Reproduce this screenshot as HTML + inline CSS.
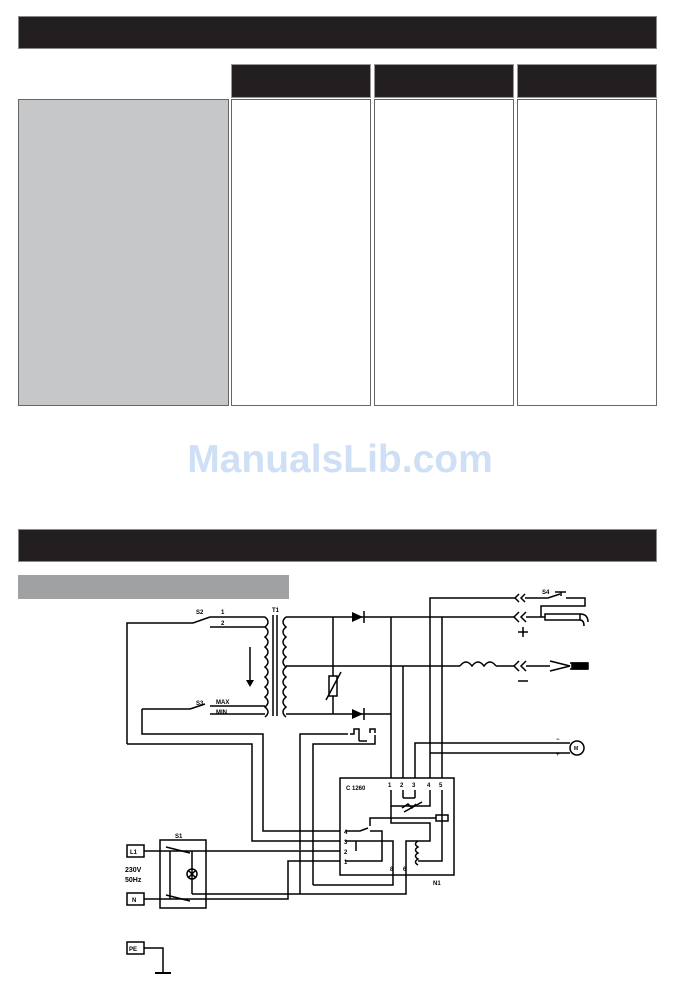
<!DOCTYPE html>
<html><head><meta charset="utf-8"><style>
html,body{margin:0;padding:0;background:#fff;}
body{width:674px;height:1000px;position:relative;overflow:hidden;font-family:"Liberation Sans",sans-serif;}
.a{position:absolute;box-sizing:border-box;}
</style></head><body>
<div class="a" style="left:18px;top:16px;width:639px;height:33px;background:#231f20;border:1px solid #888;"></div>
<div class="a" style="left:231px;top:64px;width:140px;height:34px;background:#231f20;border:1px solid #999;"></div>
<div class="a" style="left:374px;top:64px;width:140px;height:34px;background:#231f20;border:1px solid #999;"></div>
<div class="a" style="left:517px;top:64px;width:140px;height:34px;background:#231f20;border:1px solid #999;"></div>
<div class="a" style="left:18px;top:99px;width:211px;height:307px;background:#c6c7c8;border:1px solid #666;"></div>
<div class="a" style="left:231px;top:99px;width:140px;height:307px;border:1px solid #666;"></div>
<div class="a" style="left:374px;top:99px;width:140px;height:307px;border:1px solid #666;"></div>
<div class="a" style="left:517px;top:99px;width:140px;height:307px;border:1px solid #666;"></div>
<div class="a" style="left:180px;top:438px;width:320px;text-align:center;font-size:39px;font-weight:bold;color:#cfe0f6;">ManualsLib.com</div>
<div class="a" style="left:18px;top:529px;width:639px;height:33px;background:#231f20;border:1px solid #888;"></div>
<div class="a" style="left:18px;top:575px;width:271px;height:24px;background:#a0a1a3;"></div>
<svg class="a" style="left:0;top:0" width="674" height="1000" viewBox="0 0 674 1000">
<g stroke="#000" stroke-width="1.5" fill="none">
<polyline points="127,744 127,623 193,623 210,617"/>
<line x1="210" y1="617" x2="265" y2="617"/>
<line x1="210" y1="627" x2="265" y2="627"/>
<path d="M265,617 q6,5 0,10 q6,5 0,10 q6,5 0,10 q6,5 0,10 q6,5 0,10 q6,5 0,10 q6,5 0,10 q6,5 0,10 q6,5 0,10 q6,5 0,10"/>
<line x1="273" y1="615" x2="273" y2="716"/><line x1="277" y1="615" x2="277" y2="716"/>
<path d="M286,617 q-6,5 0,10 q-6,5 0,10 q-6,5 0,10 q-6,5 0,10 q-6,5 0,10 q-6,5 0,10 q-6,5 0,10 q-6,5 0,10 q-6,5 0,10 q-6,5 0,10"/>
<line x1="250" y1="647" x2="250" y2="680"/>
<line x1="190" y1="709" x2="142" y2="709"/><line x1="190" y1="709" x2="205" y2="704"/>
<line x1="210" y1="706" x2="265" y2="706"/><line x1="210" y1="714" x2="265" y2="714"/>
<polyline points="142,709 142,734 263,734 263,831 340,831"/>
<polyline points="127,744 252,744 252,841 340,841"/>
<line x1="286" y1="617" x2="515" y2="617"/>
<line x1="286" y1="714" x2="391" y2="714"/>
<line x1="286" y1="666" x2="460" y2="666"/>
<line x1="333" y1="617" x2="333" y2="714"/>
<rect x="329" y="676" width="8" height="20" fill="#fff"/>
<line x1="326" y1="700" x2="341" y2="672"/>
<line x1="391" y1="617" x2="391" y2="778"/>
<line x1="442" y1="617" x2="442" y2="778"/>
<line x1="403" y1="666" x2="403" y2="778"/>
<path d="M460,666 q6,-8 12,0 q6,-8 12,0 q6,-8 12,0 " />
<line x1="496" y1="666" x2="515" y2="666"/>
<polyline points="430,778 430,598 515,598"/>
<polyline points="415,778 415,743 570,743"/>
<polyline points="430,753 570,753"/>
<path d="M519,594 l-4,4 l4,4 M525,594 l-4,4 l4,4"/>
<path d="M519,612 l-5,5 l5,5 M526,612 l-5,5 l5,5"/>
<path d="M519,661 l-5,5 l5,5 M526,661 l-5,5 l5,5"/>
<line x1="526" y1="617" x2="545" y2="617"/>
<line x1="526" y1="666" x2="550" y2="666"/>
<polyline points="525,598 548,598 560,594"/>
<line x1="555" y1="592" x2="566" y2="592"/><line x1="561" y1="592" x2="561" y2="596"/>
<polyline points="566,598 585,598 585,606 541,606 541,617"/>
<rect x="545" y="614" width="35" height="6"/>
<path d="M580,614 q8,0 8,8 M580,620 q4,0 4,6"/>
<path d="M550,661 l20,5 l-20,5 M570,663 h18 M570,669 h18"/>
<rect x="572" y="663" width="16" height="6" fill="#000"/>
<line x1="518" y1="632" x2="528" y2="632"/><line x1="523" y1="627" x2="523" y2="637"/>
<line x1="518" y1="681" x2="528" y2="681"/>
<circle cx="577" cy="748" r="7"/>
<polyline points="300,850 300,734 348,734"/>
<polyline points="313,885 313,744 375,744 375,735"/>
<path d="M350,734 h4 v-5 h5 v12 M359,741 h8"/>
<path d="M370,733 v-4 h5 v4"/>
<rect x="340" y="778" width="114" height="97"/>
<line x1="300" y1="851" x2="300" y2="894"/>
<polyline points="313,885 393,885 393,872"/>
<polyline points="192,894 406,894 406,872"/>
<polyline points="144,851 340,851"/>
<polyline points="144,899 288,899 288,861 340,861"/>
<line x1="403" y1="790" x2="403" y2="798"/><line x1="415" y1="790" x2="415" y2="798"/>
<polyline points="403,798 415,798"/>
<polyline points="391,790 391,806 430,806 430,790"/>
<path d="M402,808 l6,-4 l4,4 l4,-4 M404,812 l18,-10"/>
<polyline points="391,806 391,823 430,823 430,841 418,841"/>
<path d="M418,841 q-5,3 0,6 q-5,3 0,6 q-5,3 0,6 q-5,3 0,6"/>
<polyline points="406,872 406,841 418,841"/>
<polyline points="442,790 442,861 418,861"/>
<rect x="436" y="815" width="12" height="6"/>
<polyline points="436,818 370,818 370,826"/>
<polyline points="345,831 360,831 368,828"/>
<polyline points="370,831 382,831 382,861 345,861"/>
<polyline points="345,841 393,841 393,872"/>
<polyline points="356,841 356,851"/>
<rect x="160" y="840" width="46" height="68"/>
<line x1="170" y1="851" x2="170" y2="899"/>
<line x1="166" y1="847" x2="190" y2="853"/>
<line x1="166" y1="895" x2="190" y2="901"/>
<polyline points="192,851 192,894"/>
<circle cx="192" cy="874" r="5"/>
<path d="M188,870 l8,8 M196,870 l-8,8"/>
<rect x="127" y="845" width="17" height="12"/>
<rect x="127" y="893" width="17" height="12"/>
<rect x="127" y="942" width="17" height="12"/>
<polyline points="144,948 163,948 163,973"/>
<line x1="155" y1="973" x2="171" y2="973" stroke-width="2"/>
</g>
<g fill="#000" stroke="none">
<polygon points="352,612 352,622 363,617"/>
<polygon points="352,709 352,719 363,714"/>
<polygon points="246,680 254,680 250,687"/>
</g>
<g stroke="#000" stroke-width="1.5"><line x1="364" y1="611" x2="364" y2="623"/><line x1="364" y1="708" x2="364" y2="720"/></g>
<g font-family="Liberation Sans, sans-serif" font-size="6" font-weight="bold" fill="#000">
<text x="196" y="614">S2</text><text x="221" y="614">1</text><text x="221" y="625">2</text>
<text x="272" y="612">T1</text><text x="196" y="705">S3</text><text x="216" y="704">MAX</text><text x="216" y="714">MIN</text>
<text x="542" y="594">S4</text><text x="346" y="790">C 1260</text>
<text x="388" y="787">1</text><text x="400" y="787">2</text><text x="412" y="787">3</text><text x="427" y="787">4</text><text x="439" y="787">5</text>
<text x="344" y="834">4</text><text x="344" y="844">3</text><text x="344" y="854">2</text><text x="344" y="864">1</text>
<text x="390" y="871">8</text><text x="403" y="871">6</text><text x="433" y="885">N1</text>
<text x="175" y="838">S1</text><text x="130" y="854">L1</text><text x="132" y="902">N</text><text x="129" y="951">PE</text>
<text x="125" y="872" font-size="7">230V</text><text x="125" y="882" font-size="7">50Hz</text>
<text x="556" y="741">−</text><text x="556" y="756">+</text><text x="574" y="750" font-size="5">M</text>
</g>
</svg>
</body></html>
